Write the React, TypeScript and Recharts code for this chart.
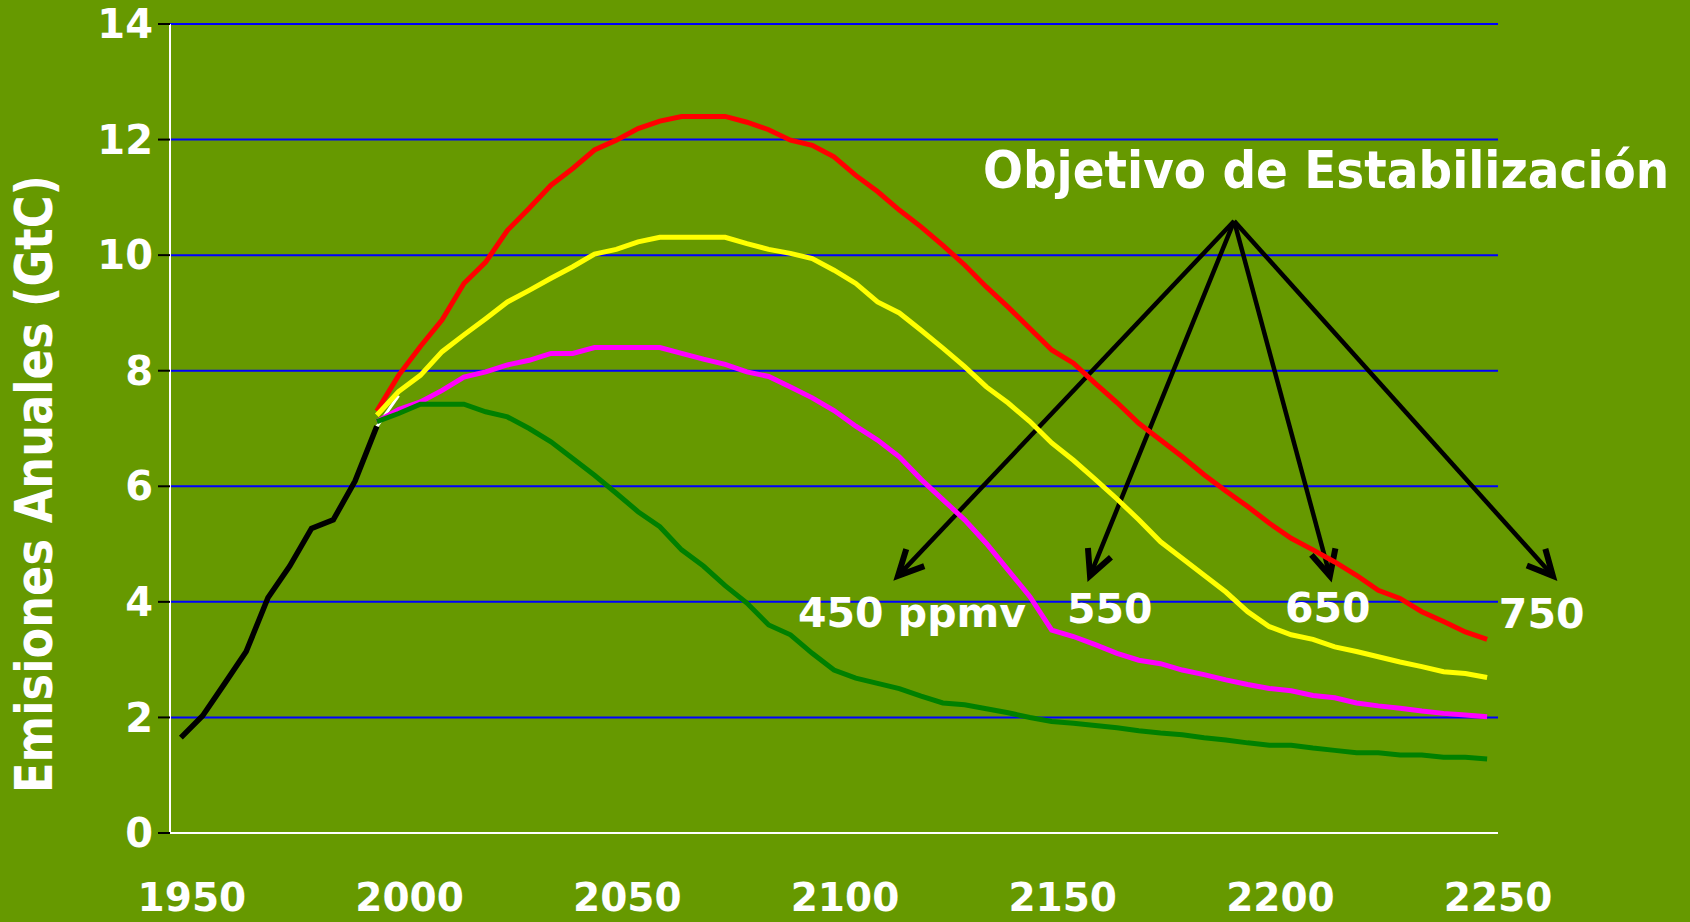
import { LineChart, Line, XAxis, YAxis, CartesianGrid, ReferenceLine } from 'recharts'

// historical emissions (black)
const histYears = [1950, 1955, 1960, 1965, 1970, 1975, 1980, 1985, 1990, 1995]
const histValues = [1.65, 2.03, 2.58, 3.14, 4.07, 4.62, 5.27, 5.42, 6.09, 7.04]

// short white stub behind the start of the scenarios
const stubYears = [1995, 2000]
const stubValues = [7.03, 7.57]

const scenYears = [
  1995, 2000, 2005, 2010, 2015, 2020, 2025, 2030, 2035, 2040, 2045, 2050, 2055,
  2060, 2065, 2070, 2075, 2080, 2085, 2090, 2095, 2100, 2105, 2110, 2115, 2120,
  2125, 2130, 2135, 2140, 2145, 2150, 2155, 2160, 2165, 2170, 2175, 2180, 2185,
  2190, 2195, 2200, 2205, 2210, 2215, 2220, 2225, 2230, 2235, 2240, 2245, 2250,
]

const s750 = [
  7.3, 7.92, 8.42, 8.88, 9.51, 9.88, 10.43, 10.81, 11.21, 11.5, 11.82, 11.99, 12.19,
  12.32, 12.4, 12.4, 12.4, 12.3, 12.17, 11.99, 11.9, 11.7, 11.38, 11.1, 10.78, 10.49,
  10.17, 9.83, 9.45, 9.1, 8.73, 8.36, 8.13, 7.78, 7.45, 7.09, 6.8, 6.51, 6.2,
  5.92, 5.65, 5.36, 5.1, 4.9, 4.69, 4.46, 4.2, 4.06, 3.83, 3.66, 3.48, 3.35,
]
const s650 = [
  7.23, 7.64, 7.92, 8.33, 8.62, 8.9, 9.19, 9.39, 9.6, 9.8, 10.02, 10.1, 10.23,
  10.31, 10.31, 10.31, 10.31, 10.2, 10.1, 10.03, 9.94, 9.74, 9.51, 9.19, 9.0, 8.7,
  8.39, 8.07, 7.72, 7.44, 7.12, 6.75, 6.45, 6.12, 5.78, 5.42, 5.04, 4.75, 4.46,
  4.17, 3.83, 3.57, 3.43, 3.35, 3.22, 3.14, 3.05, 2.96, 2.88, 2.79, 2.76, 2.69,
]
const s550 = [
  7.12, 7.33, 7.46, 7.66, 7.89, 7.98, 8.1, 8.18, 8.3, 8.3, 8.4, 8.4, 8.4,
  8.4, 8.3, 8.2, 8.11, 7.98, 7.9, 7.72, 7.53, 7.31, 7.04, 6.8, 6.51, 6.12,
  5.77, 5.42, 5.01, 4.55, 4.09, 3.51, 3.4, 3.26, 3.11, 2.99, 2.93, 2.82, 2.74,
  2.65, 2.57, 2.5, 2.46, 2.38, 2.34, 2.25, 2.2, 2.16, 2.11, 2.07, 2.04, 2.01,
]
const s450 = [
  7.12, 7.26, 7.42, 7.42, 7.42, 7.29, 7.2, 7.0, 6.77, 6.48, 6.19, 5.88, 5.56,
  5.3, 4.9, 4.62, 4.28, 3.98, 3.6, 3.43, 3.11, 2.82, 2.68, 2.59, 2.5, 2.37,
  2.25, 2.22, 2.15, 2.08, 2.0, 1.93, 1.9, 1.86, 1.82, 1.77, 1.73, 1.7, 1.65,
  1.61, 1.56, 1.52, 1.52, 1.47, 1.43, 1.39, 1.39, 1.35, 1.35, 1.31, 1.31, 1.28,
]

const xTicks = [1950, 2000, 2050, 2100, 2150, 2200, 2250]
const yTicks = [0, 2, 4, 6, 8, 10, 12, 14]

// arrows: common origin, one tip per target
const arrowFrom = { year: 2191.9, value: 10.59 }
const arrowLabels = ['450 ppmv', '550', '650', '750']
const arrowTipYears = [2114.7, 2158.8, 2213.9, 2265.1]
const arrowTipValue = 4.45

type Row = { year: number; [k: string]: number }

const buildRows = () => {
  const rows = new Map<number, Row>()
  const put = (years: number[], values: number[], key: string) => {
    years.forEach((y, i) => {
      const r = rows.get(y) ?? { year: y }
      r[key] = values[i]
      rows.set(y, r)
    })
  }
  put(histYears, histValues, 'hist')
  put(stubYears, stubValues, 'stub')
  put(scenYears, s750, 's750')
  put(scenYears, s650, 's650')
  put(scenYears, s550, 's550')
  put(scenYears, s450, 's450')
  return [...rows.values()].sort((a, b) => a.year - b.year)
}

const data = buildRows()

const FONT = '"DejaVu Sans", Verdana, sans-serif'

// label placement relative to arrow tip
const labelOffsets = [
  { dx: -100, dy: 51 },
  { dx: -23, dy: 47 },
  { dx: -45, dy: 46 },
  { dx: -54, dy: 52 },
]

const Arrow = (props: any) => {
  const { x1, y1, x2, y2, text, dx, dy } = props
  const a = Math.atan2(y2 - y1, x2 - x1)
  const len = 28
  const spread = 0.46
  const p1 = `${x2 - len * Math.cos(a - spread)},${y2 - len * Math.sin(a - spread)}`
  const p2 = `${x2 - len * Math.cos(a + spread)},${y2 - len * Math.sin(a + spread)}`
  return (
    <g>
      <line x1={x1} y1={y1} x2={x2} y2={y2} stroke="#000" strokeWidth={4.5} />
      <polyline points={`${p1} ${x2},${y2} ${p2}`} fill="none" stroke="#000" strokeWidth={6} />
      <text
        x={x2 + dx}
        y={y2 + dy}
        fill="#fff"
        fontSize={41}
        fontWeight="bold"
        fontFamily={FONT}
      >
        {text}
      </text>
    </g>
  )
}

const tickStyle = { fill: '#fff', fontSize: 40, fontWeight: 'bold', fontFamily: FONT }

const App = () => {
  return (
    <div style={{ position: 'absolute', left: 0, top: 0, width: 1690, height: 922, background: '#669900' }}>
      <LineChart
        width={1690}
        height={922}
        data={data}
        margin={{ top: 24, right: 192, bottom: 0, left: 0 }}
      >
        <CartesianGrid horizontal vertical={false} stroke="#0000ff" strokeWidth={2} />
        <XAxis
          dataKey="year"
          type="number"
          domain={[1947.5, 2252.5]}
          ticks={xTicks}
          height={89}
          axisLine={{ stroke: '#fff', strokeWidth: 2 }}
          tickLine={false}
          tickMargin={44}
          tick={{ ...tickStyle, fontSize: 39, dx: 11 }}
        />
        <YAxis
          type="number"
          domain={[0, 14]}
          ticks={yTicks}
          width={170}
          axisLine={{ stroke: '#fff', strokeWidth: 2 }}
          tickLine={{ stroke: '#000', strokeWidth: 2 }}
          tickSize={12}
          tickMargin={5}
          tick={tickStyle}
        />

        {arrowTipYears.map((ty, i) => (
          <ReferenceLine
            key={arrowLabels[i]}
            segment={[
              { x: arrowFrom.year, y: arrowFrom.value },
              { x: ty, y: arrowTipValue },
            ]}
            ifOverflow="visible"
            shape={(p: any) => <Arrow {...p} text={arrowLabels[i]} {...labelOffsets[i]} />}
          />
        ))}

        <Line dataKey="stub" stroke="#fff" strokeWidth={3} dot={false} isAnimationActive={false} />
        <Line dataKey="hist" stroke="#000" strokeWidth={5.5} dot={false} isAnimationActive={false} />
        <Line dataKey="s750" stroke="#ff0000" strokeWidth={5} dot={false} isAnimationActive={false} />
        <Line dataKey="s650" stroke="#ffff00" strokeWidth={5} dot={false} isAnimationActive={false} />
        <Line dataKey="s550" stroke="#ff00ff" strokeWidth={5} dot={false} isAnimationActive={false} />
        <Line dataKey="s450" stroke="#008000" strokeWidth={5} dot={false} isAnimationActive={false} />
      </LineChart>

      <svg
        width={1690}
        height={922}
        style={{ position: 'absolute', left: 0, top: 0, pointerEvents: 'none' }}
      >
        <text
          x={52}
          y={484}
          transform="rotate(-90 52 484)"
          textAnchor="middle"
          fill="#fff"
          fontSize={51}
          fontWeight="bold"
          fontFamily={FONT}
          textLength={618}
          lengthAdjust="spacingAndGlyphs"
        >
          Emisiones Anuales (GtC)
        </text>
        <text
          x={0}
          y={0}
          transform="translate(983 188) scale(1 1.08)"
          fill="#fff"
          fontSize={47}
          fontWeight="bold"
          fontFamily={FONT}
        >
          Objetivo de Estabilización
        </text>
      </svg>
    </div>
  )
}

export default App
